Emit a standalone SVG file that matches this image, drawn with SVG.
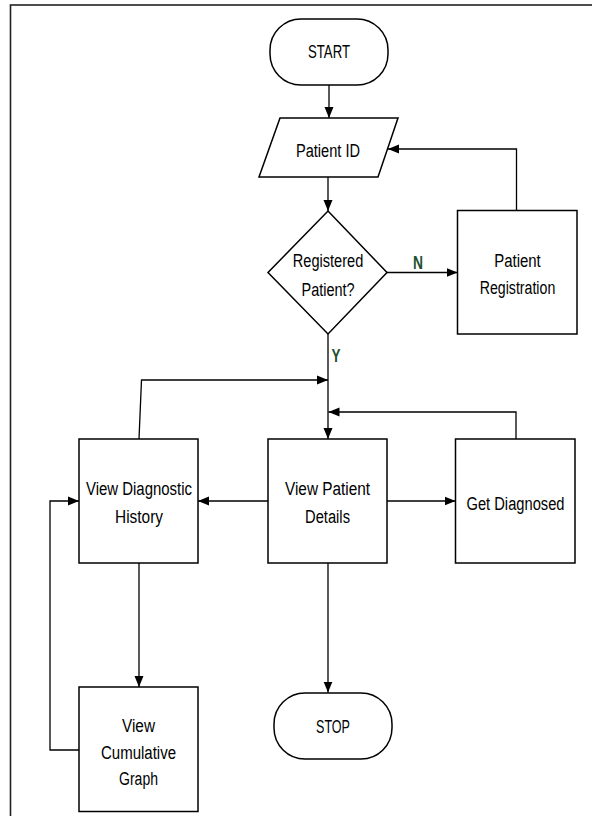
<svg xmlns="http://www.w3.org/2000/svg" width="592" height="816" viewBox="0 0 592 816">
<style>
.shape{fill:#fff;stroke:#000;stroke-width:1.5}
.conn{fill:none;stroke:#000;stroke-width:1.3}
.t{font-family:"Liberation Sans",Arial,sans-serif;font-size:18px;fill:#000;text-anchor:middle}
.lbl{font-family:"Liberation Sans",Arial,sans-serif;font-size:18px;font-weight:bold;fill:#22502f;text-anchor:middle}
</style>
<defs>
<marker id="ah" markerUnits="userSpaceOnUse" markerWidth="12" markerHeight="10" refX="11" refY="5" orient="auto">
<path d="M0,0.5 L11,5 L0,9.5 Z" fill="#000"/>
</marker>
</defs>
<rect width="592" height="816" fill="#fff"/>
<rect x="10.5" y="5" width="620" height="900" fill="none" stroke="#222" stroke-width="1.6"/>

<g id="connectors">
<line class="conn" x1="329" y1="85" x2="329" y2="118" marker-end="url(#ah)"/>
<line class="conn" x1="328" y1="177" x2="328" y2="211" marker-end="url(#ah)"/>
<line class="conn" x1="387" y1="272.5" x2="457.5" y2="272.5" marker-end="url(#ah)"/>
<polyline class="conn" points="516.5,210.5 516.5,149 388,149" marker-end="url(#ah)"/>
<line class="conn" x1="328" y1="334" x2="328" y2="439" marker-end="url(#ah)"/>
<polyline class="conn" points="139,439 141.5,380 328,380" marker-end="url(#ah)"/>
<polyline class="conn" points="516,439 516,412 328.5,412" marker-end="url(#ah)"/>
<line class="conn" x1="268" y1="501" x2="198" y2="501" marker-end="url(#ah)"/>
<line class="conn" x1="387" y1="501" x2="455.5" y2="501" marker-end="url(#ah)"/>
<line class="conn" x1="139" y1="563" x2="139" y2="687" marker-end="url(#ah)"/>
<polyline class="conn" points="79,750 50,750 50,501 79,501" marker-end="url(#ah)"/>
<line class="conn" x1="328" y1="563" x2="328" y2="692.5" marker-end="url(#ah)"/>
<text class="lbl" x="418" y="269" textLength="10" lengthAdjust="spacingAndGlyphs">N</text>
<text class="lbl" x="336" y="362" textLength="9" lengthAdjust="spacingAndGlyphs">Y</text>
</g>

<g id="start">
<rect class="shape" x="270" y="19" width="118" height="66" rx="31" ry="31"/>
<text class="t" x="329" y="58" textLength="42" lengthAdjust="spacingAndGlyphs">START</text>
</g>
<g id="patient-id">
<polygon class="shape" points="280,118 398,118 378,177 259,177"/>
<text class="t" x="328" y="156.5" textLength="64" lengthAdjust="spacingAndGlyphs">Patient ID</text>
</g>
<g id="registered">
<polygon class="shape" points="328,211 387,272.5 328,334 268,272.5"/>
<text class="t" x="328" y="267" textLength="70.5" lengthAdjust="spacingAndGlyphs">Registered</text>
<text class="t" x="328" y="295.5" textLength="53" lengthAdjust="spacingAndGlyphs">Patient?</text>
</g>
<g id="registration">
<rect class="shape" x="457.5" y="210.5" width="119.5" height="123.5"/>
<text class="t" x="517.5" y="267" textLength="46.5" lengthAdjust="spacingAndGlyphs">Patient</text>
<text class="t" x="517.5" y="294" textLength="75.5" lengthAdjust="spacingAndGlyphs">Registration</text>
</g>
<g id="view-diagnostic-history">
<rect class="shape" x="79" y="439" width="119" height="124"/>
<text class="t" x="139" y="494.5" textLength="106" lengthAdjust="spacingAndGlyphs">View Diagnostic</text>
<text class="t" x="139" y="523" textLength="48" lengthAdjust="spacingAndGlyphs">History</text>
</g>
<g id="view-patient-details">
<rect class="shape" x="268" y="439" width="119" height="124"/>
<text class="t" x="327.5" y="495" textLength="85" lengthAdjust="spacingAndGlyphs">View Patient</text>
<text class="t" x="327.5" y="523" textLength="45" lengthAdjust="spacingAndGlyphs">Details</text>
</g>
<g id="get-diagnosed">
<rect class="shape" x="455.5" y="439" width="119.5" height="124"/>
<text class="t" x="515.5" y="510" textLength="98" lengthAdjust="spacingAndGlyphs">Get Diagnosed</text>
</g>
<g id="view-cumulative-graph">
<rect class="shape" x="79" y="687" width="119" height="124.5"/>
<text class="t" x="138.5" y="731.5" textLength="33" lengthAdjust="spacingAndGlyphs">View</text>
<text class="t" x="138.5" y="759" textLength="75" lengthAdjust="spacingAndGlyphs">Cumulative</text>
<text class="t" x="138.5" y="785" textLength="39" lengthAdjust="spacingAndGlyphs">Graph</text>
</g>
<g id="stop">
<rect class="shape" x="274" y="693" width="118" height="66" rx="31" ry="31"/>
<text class="t" x="333" y="733" textLength="34" lengthAdjust="spacingAndGlyphs">STOP</text>
</g>
</svg>
